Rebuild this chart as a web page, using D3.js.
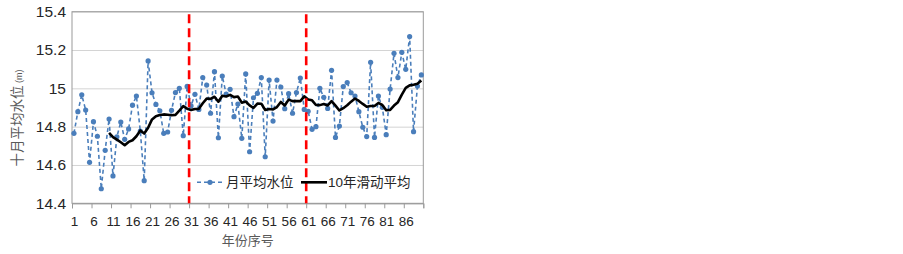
<!DOCTYPE html>
<html>
<head>
<meta charset="utf-8">
<title>十月平均水位</title>
<script src="https://d3js.org/d3.v7.min.js"></script>
<style>
  body { margin: 0; background: #fff; }
  text { font-family: "Liberation Sans", Arial, "Noto Sans CJK SC", sans-serif; }
</style>
</head>
<body>
<div id="chart"></div>
<script>
// 年份序号 1..90 与十月平均水位 (m)
const years = [
  1,2,3,4,5,6,7,8,9,10,11,12,13,14,15,16,17,18,19,20,
  21,22,23,24,25,26,27,28,29,30,31,32,33,34,35,36,37,38,39,40,
  41,42,43,44,45,46,47,48,49,50,51,52,53,54,55,56,57,58,59,60,
  61,62,63,64,65,66,67,68,69,70,71,72,73,74,75,76,77,78,79,80,
  81,82,83,84,85,86,87,88,89,90
];
const level = [
  14.765,14.878,14.966,14.887,14.614,14.826,14.750,14.476,14.677,14.840,
  14.543,14.747,14.824,14.734,14.788,14.912,14.960,14.777,14.518,15.143,
  14.977,14.916,14.883,14.765,14.772,14.885,14.978,15.000,14.753,15.010,
  14.908,14.969,14.890,15.056,15.017,14.870,15.087,14.742,15.064,14.970,
  14.995,14.852,14.918,14.739,15.075,14.669,14.951,14.974,15.056,14.643,
  15.043,14.829,15.043,15.007,14.894,14.972,14.870,14.978,15.054,14.890,
  14.880,14.786,14.800,15.000,14.953,14.895,15.094,14.744,14.803,15.009,
  15.030,14.977,14.960,14.878,14.797,14.748,15.136,14.744,14.960,14.901,
  14.758,14.996,15.183,15.056,15.188,15.099,15.270,14.774,15.012,15.070
];
const period = 10;               // 10年滑动平均
const breaks = [31, 61];         // 分期起始年份 (红色虚线)
const xTicks = [1,6,11,16,21,26,31,36,41,46,51,56,61,66,71,76,81,86];
const yTicks = [14.4, 14.6, 14.8, 15, 15.2, 15.4];

const width = 903, height = 254;
const margin = {top: 11.7, right: 479.7, bottom: 50.7, left: 72};
const w = width - margin.left - margin.right;
const h = height - margin.top - margin.bottom;

const svg = d3.select("#chart").append("svg")
    .attr("width", width)
    .attr("height", height);
const g = svg.append("g")
    .attr("transform", "translate(" + margin.left + "," + margin.top + ")");

// 分类轴：刻度线在分类之间
const x = d3.scaleLinear().domain([0.5, years.length + 0.5]).range([0, w]);
const y = d3.scaleLinear().domain([14.4, 15.4]).range([h, 0]);

// 网格线
g.append("g")
    .call(d3.axisLeft(y).tickValues(yTicks).tickSize(-w).tickFormat(""))
    .call(s => s.select(".domain").remove())
    .selectAll("line").attr("stroke", "#d4d4d4");

// 绘图区边框
g.append("rect")
    .attr("width", w).attr("height", h)
    .attr("fill", "none").attr("stroke", "#9a9a9a");

// y 轴标签
g.append("g")
    .call(d3.axisLeft(y).tickValues(yTicks).tickSize(0).tickPadding(6)
        .tickFormat(d => String(+d.toFixed(1))))
    .call(s => s.select(".domain").remove())
    .selectAll("text")
    .attr("font-size", "15.5px").attr("fill", "#262626");

// x 轴刻度线
const tickMarks = [];
for (let i = 0; i <= years.length; i += 5) tickMarks.push(i + 0.5);
g.append("g")
    .attr("transform", "translate(0," + h + ")")
    .call(d3.axisBottom(x).tickValues(tickMarks).tickSize(5).tickFormat(""))
    .call(s => s.select(".domain").attr("stroke", "#9a9a9a"))
    .selectAll("line").attr("stroke", "#9a9a9a");

// x 轴标签
g.append("g")
    .attr("transform", "translate(0," + h + ")")
    .call(d3.axisBottom(x).tickValues(xTicks).tickSize(0).tickPadding(13))
    .call(s => s.select(".domain").remove())
    .selectAll("text")
    .attr("font-size", "13.5px").attr("fill", "#262626");

// 月平均水位
const pts = years.map((d, i) => ({yr: d, v: level[i]}));
const line = d3.line().x(d => x(d.yr)).y(d => y(d.v));

g.append("path")
    .datum(pts)
    .attr("fill", "none")
    .attr("stroke", "#4a7ebb")
    .attr("stroke-width", 1.6)
    .attr("stroke-dasharray", "4,3")
    .attr("d", line);

g.selectAll(".dot")
    .data(pts)
    .enter().append("circle")
    .attr("class", "dot")
    .attr("cx", d => x(d.yr))
    .attr("cy", d => y(d.v))
    .attr("r", 2.6)
    .attr("fill", "#4a7ebb");

// 10年滑动平均
const ma = [];
for (let i = period - 1; i < pts.length; i++) {
    ma.push({yr: years[i], v: d3.mean(level.slice(i - period + 1, i + 1))});
}
g.append("path")
    .datum(ma)
    .attr("fill", "none")
    .attr("stroke", "#000")
    .attr("stroke-width", 2.6)
    .attr("stroke-linejoin", "round")
    .attr("d", line);

// 分期线
g.selectAll(".brk")
    .data(breaks)
    .enter().append("line")
    .attr("x1", d => x(d - 0.5)).attr("x2", d => x(d - 0.5))
    .attr("y1", 2.5).attr("y2", h)
    .attr("stroke", "#ff0000")
    .attr("stroke-width", 2.6)
    .attr("stroke-dasharray", "9,5");

// 图例
const lg = g.append("g").attr("transform", "translate(0," + (h - 21) + ")");
lg.append("line")
    .attr("x1", 125).attr("x2", 150)
    .attr("stroke", "#4a7ebb").attr("stroke-width", 1.6)
    .attr("stroke-dasharray", "4,3");
lg.append("circle").attr("cx", 138).attr("r", 2.6).attr("fill", "#4a7ebb");
lg.append("text").attr("x", 154).attr("y", 5)
    .attr("font-size", "13.5px").attr("fill", "#262626")
    .text("月平均水位");
lg.append("line")
    .attr("x1", 229).attr("x2", 255)
    .attr("stroke", "#000").attr("stroke-width", 2.6);
lg.append("text").attr("x", 256).attr("y", 5)
    .attr("font-size", "13.5px").attr("fill", "#262626")
    .text("10年滑动平均");

// 轴标题
svg.append("text")
    .attr("x", margin.left + w / 2).attr("y", 245)
    .attr("text-anchor", "middle")
    .attr("font-size", "13px").attr("fill", "#595959")
    .text("年份序号");

const yt = svg.append("text")
    .attr("transform", "translate(22,118) rotate(-90)")
    .attr("text-anchor", "middle")
    .attr("font-size", "13.5px").attr("fill", "#595959");
yt.append("tspan").text("十月平均水位");
yt.append("tspan").attr("font-size", "9px").text(" (m)");
</script>
</body>
</html>
